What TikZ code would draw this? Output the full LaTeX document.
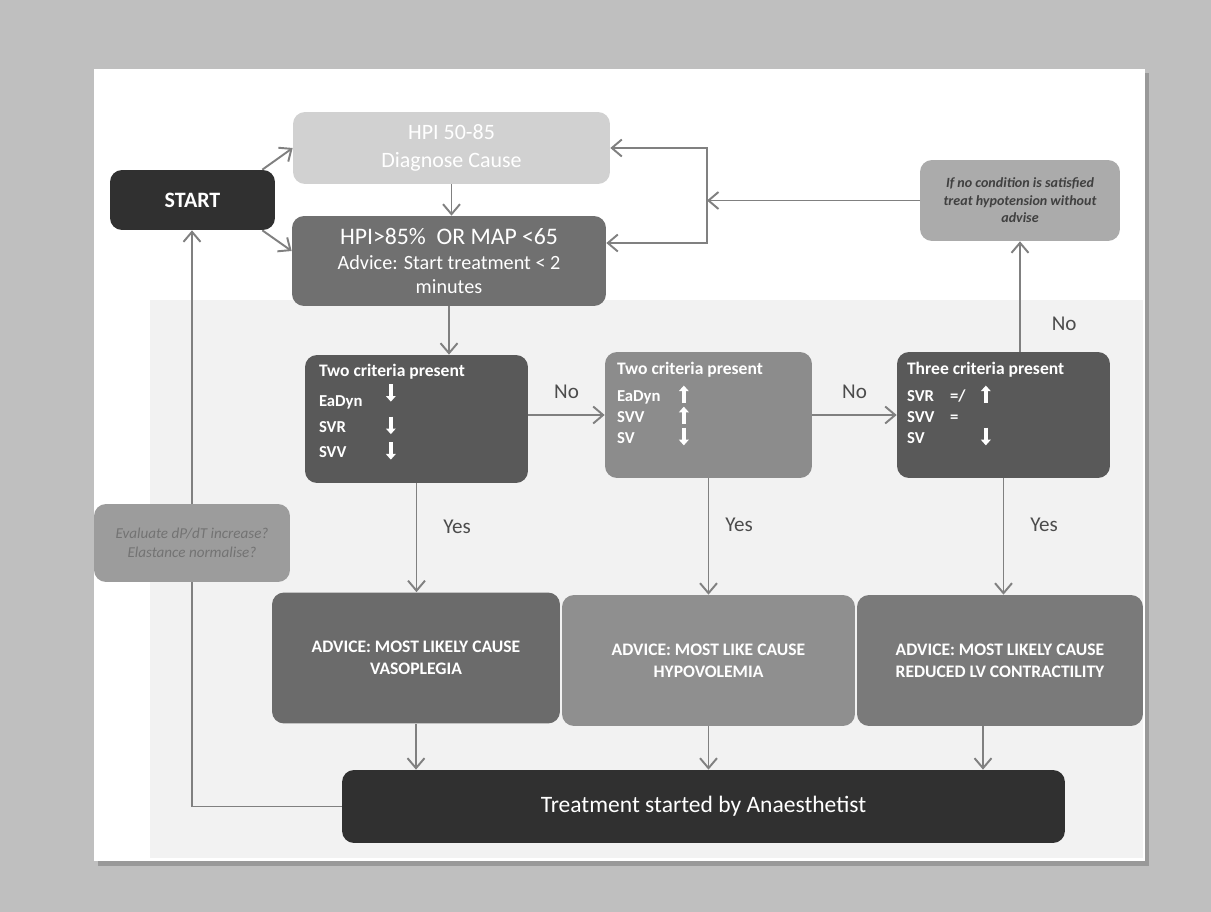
\documentclass[tikz,border=0pt]{standalone}
\usepackage{fontspec}
\setmainfont{Carlito}
\usetikzlibrary{calc, positioning}
\usetikzlibrary{arrows.meta}

\definecolor{pagegray}{gray}{0.75}
\definecolor{panelgray}{gray}{0.95}
\definecolor{startgray}{gray}{0.19}
\definecolor{lightbox}{gray}{0.82}
\definecolor{hpigray}{gray}{0.44}
\definecolor{darkbox}{gray}{0.35}
\definecolor{midbox}{gray}{0.55}
\definecolor{advleft}{gray}{0.42}
\definecolor{advmid}{gray}{0.56}
\definecolor{advright}{gray}{0.48}
\definecolor{treatgray}{gray}{0.19}
\definecolor{evalgray}{gray}{0.61}
\definecolor{notegray}{gray}{0.67}
\definecolor{linkgray}{gray}{0.5}

\newcommand{\critup}{\smash{\tikz[baseline=0pt]\draw[white, line width=2.2pt,
  -{Triangle[length=3.2pt,width=5.5pt]}] (0pt,-1pt) -- (0pt,9pt);}}
\newcommand{\critdn}{\smash{\tikz[baseline=0pt]\draw[white, line width=2.2pt,
  -{Triangle[length=3.2pt,width=5.5pt]}] (0pt,9pt) -- (0pt,-1pt);}}

\begin{document}
\begin{tikzpicture}[x=0.02cm, y=-0.02cm,
  box/.style={rounded corners=2.4mm, inner sep=0pt, text=white, align=center},
  link/.style={draw=linkgray, line width=1.1pt, -{Straight Barb[length=2mm,width=3.4mm]}},
  lbl/.style={text=black!70, font=\fontsize{12}{14}\selectfont},
  crit/.style={text=white, inner sep=0pt, align=left, font=\fontsize{9.5}{11.5}\selectfont\bfseries},
  advice/.style={box, minimum height=2.62cm, font=\fontsize{10}{12.5}\selectfont\bfseries},
]
\useasboundingbox (0,0) rectangle (1211,912);

% slide and backdrop
\fill[pagegray] (0,0) rectangle (1211,912);
\fill[black!40] (98,73) rectangle (1149,866);
\fill[white] (94,69) rectangle (1145,861);
\fill[panelgray] (150,300) rectangle (1143,858);

% top row
\node[box, fill=startgray, minimum width=3.3cm, minimum height=1.2cm,
  font=\fontsize{12.5}{14}\selectfont\bfseries] (start) at (192.5,200) {START};
\node[box, fill=lightbox, minimum width=6.34cm, minimum height=1.44cm,
  font=\fontsize{12.5}{16}\selectfont] (hpilow) at (451.5,148) {HPI 50-85\\Diagnose Cause};
\node[box, fill=hpigray, minimum width=6.28cm, minimum height=1.8cm,
  font=\fontsize{11.5}{14}\selectfont] (hpihigh) at (449,261)
  {{\fontsize{13.5}{15}\selectfont HPI>85\%\ \ OR MAP <65}\\Advice: Start treatment < 2\\minutes};
\node[box, fill=notegray, minimum width=4cm, minimum height=1.62cm, text=black!75,
  font=\fontsize{8}{10}\selectfont\bfseries\itshape] (nocond) at (1020,200.5)
  {If no condition is satisfied\\treat hypotension without\\advise};

% criteria row
\node[box, fill=darkbox, minimum width=4.46cm, minimum height=2.56cm] (critA) at (416.5,419) {};
\node[box, fill=midbox, minimum width=4.14cm, minimum height=2.52cm] (critB) at (708.5,415) {};
\node[box, fill=darkbox, minimum width=4.26cm, minimum height=2.52cm] (critC) at (1003.5,415) {};

\node[crit, below right=0.14cm and 0.28cm of critA.north west] (critAtext) {%
  \begin{tabular}{@{}p{1.34cm}@{}l@{}}
  \multicolumn{2}{@{}l}{\fontsize{10}{12}\selectfont Two criteria present}\\[6pt]
  EaDyn & \raisebox{4pt}{\critdn}\\[3pt]
  SVR & \critdn\\[3pt]
  SVV & \critdn
  \end{tabular}};
\node[crit, below right=0.16cm and 0.24cm of critB.north west] (critBtext) {%
  \begin{tabular}{@{}p{1.24cm}@{}l@{}}
  \multicolumn{2}{@{}l}{\fontsize{10}{12}\selectfont Two criteria present}\\[4pt]
  EaDyn & \critup\\[0.5pt]
  SVV & \critup\\[0.5pt]
  SV & \critdn
  \end{tabular}};
\node[crit, below right=0.16cm and 0.2cm of critC.north west] (critCtext) {%
  \begin{tabular}{@{}p{0.86cm}@{}p{0.62cm}@{}l@{}}
  \multicolumn{3}{@{}l}{\fontsize{10}{12}\selectfont Three criteria present}\\[4pt]
  SVR & =/ & \critup\\[0.5pt]
  SVV & = & \\[0.5pt]
  SV & & \critdn
  \end{tabular}};

% advice row
\node[advice, fill=advleft, minimum width=5.76cm] (advA) at (416,658)
  {ADVICE: MOST LIKELY CAUSE\\VASOPLEGIA};
\node[advice, fill=advmid, minimum width=5.86cm] (advB) at (708.5,660.5)
  {ADVICE: MOST LIKE CAUSE\\HYPOVOLEMIA};
\node[advice, fill=advright, minimum width=5.72cm] (advC) at (1000,660.5)
  {ADVICE: MOST LIKELY CAUSE\\REDUCED LV CONTRACTILITY};

% bottom and return path
\node[box, fill=treatgray, minimum width=14.46cm, minimum height=1.46cm,
  font=\fontsize{13.4}{15}\selectfont] (treat) at (703.5,806.5) {Treatment started by Anaesthetist};
\node[box, fill=evalgray, minimum width=3.92cm, minimum height=1.56cm, text=black!55,
  font=\fontsize{8.6}{10.5}\selectfont\itshape] (evalbox) at (192,543)
  {Evaluate dP/dT increase?\\Elastance normalise?};

% connectors
\draw[link] ([xshift=-0.26cm]start.north east) -- (hpilow.west);
\draw[link] ([xshift=-0.26cm]start.south east) -- ([yshift=0.2cm]hpihigh.west);
\draw[link] (hpilow.south) -- (hpilow.south |- hpihigh.north);
\draw[link] (hpihigh.south) -- (hpihigh.south |- critA.north);

\draw[link] (critA.east |- critB.west) -- (critB.west) node[lbl, midway, above=0.2cm] {No};
\draw[link] (critB.east |- critC.west) -- (critC.west) node[lbl, midway, above=0.2cm] {No};
\draw[link] (nocond.south |- critC.north) -- (nocond.south) node[lbl, pos=0.25, right=0.5cm] {No};

\coordinate (merge) at (707,200.5);
\draw[link] (nocond.west) -- (merge);
\draw[link] (merge) |- (hpilow.east);
\draw[link] (merge) |- ([yshift=0.36cm]hpihigh.east);

\draw[link] (critA.south) -- (critA.south |- advA.north) node[lbl, pos=0.4, right=0.4cm] {Yes};
\draw[link] (critB.south) -- (critB.south |- advB.north) node[lbl, pos=0.4, right=0.2cm] {Yes};
\draw[link] (critC.south) -- (critC.south |- advC.north) node[lbl, pos=0.4, right=0.4cm] {Yes};

\draw[link] (advA.south) -- (advA.south |- treat.north);
\draw[link] (advB.south) -- (advB.south |- treat.north);
\draw[link] ([xshift=-0.34cm]advC.south) -- ([xshift=-0.34cm]advC.south |- treat.north);

\draw[link, -] (treat.west) -| (evalbox.south);
\draw[link] (evalbox.north) -- (evalbox.north |- start.south);
\end{tikzpicture}
\end{document}
